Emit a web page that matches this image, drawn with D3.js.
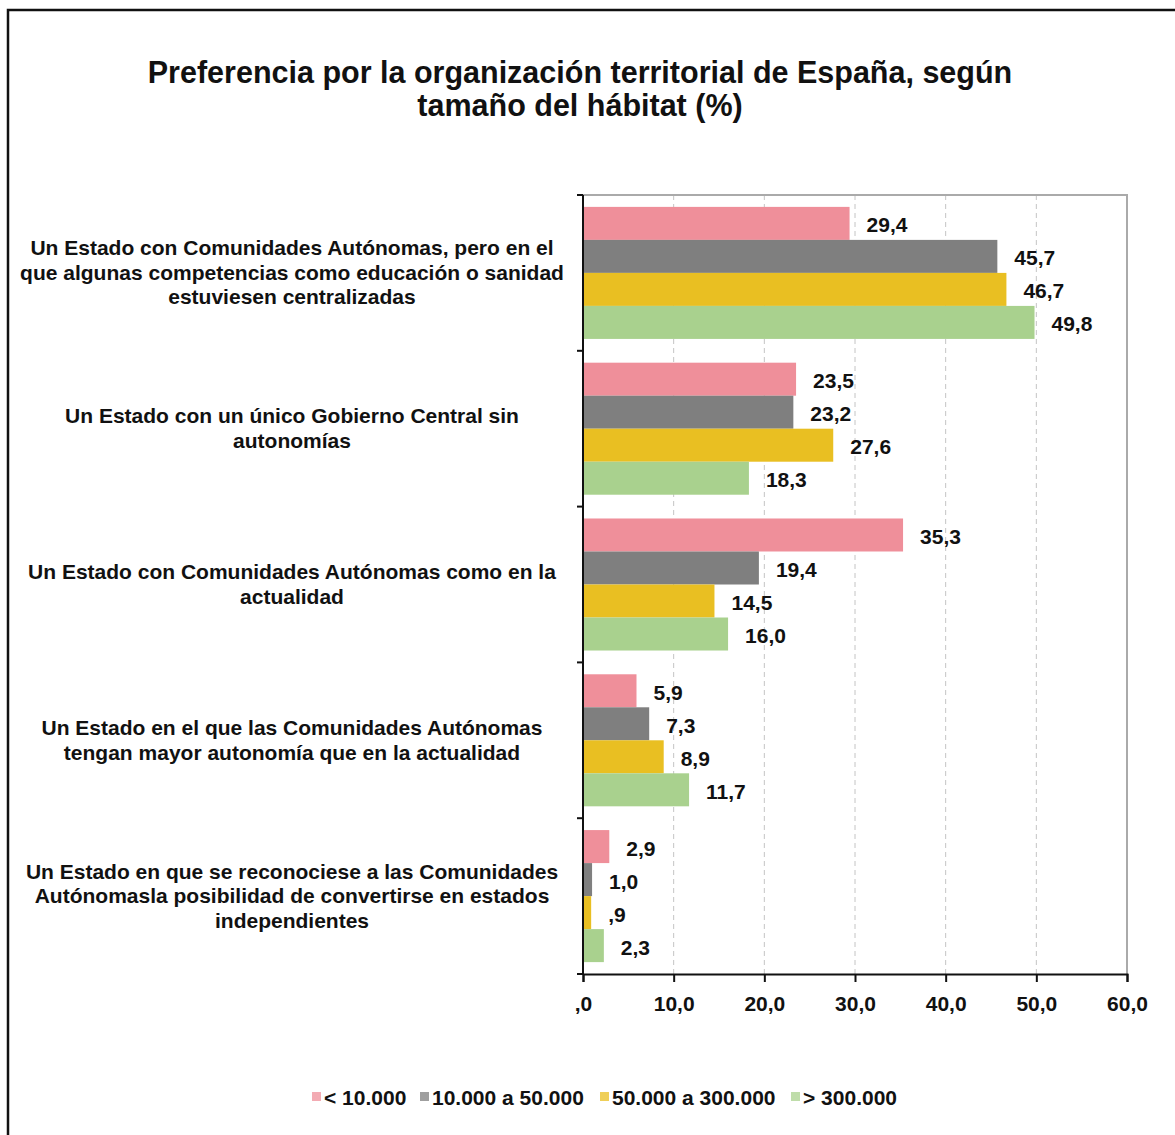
<!DOCTYPE html>
<html>
<head>
<meta charset="utf-8">
<script src="https://cdn.jsdelivr.net/npm/d3@7"></script>
<style>
  body { margin: 0; background: #fff; }
  text { font-family: "Liberation Sans", Arial, sans-serif; fill: #111; }
</style>
</head>
<body>
<div id="chart"></div>
<script>
// chart data
const titleLines = ['Preferencia por la organización territorial de España, según', 'tamaño del hábitat (%)'];

const categories = [
  ['Un Estado con Comunidades Autónomas, pero en el', 'que algunas competencias como educación o sanidad', 'estuviesen centralizadas'],
  ['Un Estado con un único Gobierno Central sin', 'autonomías'],
  ['Un Estado con Comunidades Autónomas como en la', 'actualidad'],
  ['Un Estado en el que las Comunidades Autónomas', 'tengan mayor autonomía que en la actualidad'],
  ['Un Estado en que se reconociese a las Comunidades', 'Autónomasla posibilidad de convertirse en estados', 'independientes']
];

const seriesNames = ['< 10.000', '10.000 a 50.000', '50.000 a 300.000', '> 300.000'];
const seriesColors = ['#ef8f9a', '#7f7f7f', '#e9bf22', '#a9d18e'];

const lt10k = [29.4, 23.5, 35.3, 5.9, 2.9];
const from10kTo50k = [45.7, 23.2, 19.4, 7.3, 1.0];
const from50kTo300k = [46.7, 27.6, 14.5, 8.9, 0.9];
const gt300k = [49.8, 18.3, 16.0, 11.7, 2.3];

const xTicks = [0, 10, 20, 30, 40, 50, 60];

const values = [lt10k, from10kTo50k, from50kTo300k, gt300k];

// spanish number format: 0,9 -> ,9
const fmt = v => d3.format('.1f')(v).replace('.', ',').replace(/^0,/, ',');

const width = 1175, height = 1135;
const plot = { left: 583, right: 1127, top: 195, bottom: 974 };

const svg = d3.select('#chart').append('svg')
  .attr('width', width)
  .attr('height', height);

// outer frame (only left / top visible in the original)
svg.append('rect')
  .attr('x', 8).attr('y', 10)
  .attr('width', width + 20).attr('height', height + 20)
  .attr('fill', '#fff')
  .attr('stroke', '#111')
  .attr('stroke-width', 2.5);

// title
svg.append('g').selectAll('text')
  .data(titleLines)
  .join('text')
  .attr('x', 580)
  .attr('y', (d, i) => 83 + i * 33)
  .attr('text-anchor', 'middle')
  .style('font-size', '30.5px')
  .style('font-weight', 'bold')
  .text(d => d);

const x = d3.scaleLinear().domain([0, 60]).range([plot.left, plot.right]);
const y0 = d3.scaleBand().domain(d3.range(categories.length)).range([plot.top, plot.bottom]);
const y1 = d3.scaleBand().domain(d3.range(seriesNames.length))
  .range([0, y0.bandwidth()])
  .paddingOuter(0.36);

// grid lines
svg.append('g').selectAll('line')
  .data(xTicks.filter(t => t > 0 && t < 60))
  .join('line')
  .attr('x1', d => x(d)).attr('x2', d => x(d))
  .attr('y1', plot.top).attr('y2', plot.bottom)
  .attr('stroke', '#c4c4c4')
  .attr('stroke-dasharray', '5,4');

// plot border top / right
svg.append('path')
  .attr('d', `M${plot.left},${plot.top}H${plot.right}V${plot.bottom}`)
  .attr('fill', 'none')
  .attr('stroke', '#aaa')
  .attr('stroke-width', 2);

// bars
const groups = svg.append('g').selectAll('g')
  .data(categories.map((c, i) => i))
  .join('g')
  .attr('transform', i => `translate(0,${y0(i)})`);

groups.selectAll('rect')
  .data(i => values.map((s, j) => ({ j, v: s[i] })))
  .join('rect')
  .attr('x', x(0))
  .attr('y', d => y1(d.j))
  .attr('width', d => x(d.v) - x(0))
  .attr('height', y1.bandwidth())
  .attr('fill', d => seriesColors[d.j]);

groups.selectAll('text')
  .data(i => values.map((s, j) => ({ j, v: s[i] })))
  .join('text')
  .attr('x', d => x(d.v) + 17)
  .attr('y', d => y1(d.j) + y1.bandwidth() / 2 + 9)
  .style('font-size', '21px')
  .style('font-weight', 'bold')
  .text(d => fmt(d.v));

// category labels
svg.append('g').selectAll('text')
  .data(categories)
  .join('text')
  .attr('text-anchor', 'middle')
  .style('font-size', '21px')
  .style('font-weight', 'bold')
  .each(function (lines, i) {
    const cy = y0(i) + y0.bandwidth() / 2;
    const start = cy - (lines.length - 1) * 24.5 / 2;
    d3.select(this).selectAll('tspan')
      .data(lines)
      .join('tspan')
      .attr('x', 292)
      .attr('y', (d, k) => start + k * 24.5 + 7)
      .text(d => d);
  });

// y axis with category boundary ticks
svg.append('line')
  .attr('x1', plot.left).attr('x2', plot.left)
  .attr('y1', plot.top).attr('y2', plot.bottom)
  .attr('stroke', '#111').attr('stroke-width', 2);
svg.append('g').selectAll('line')
  .data(d3.range(categories.length + 1))
  .join('line')
  .attr('x1', plot.left - 6).attr('x2', plot.left)
  .attr('y1', i => i < categories.length ? y0(i) : plot.bottom)
  .attr('y2', i => i < categories.length ? y0(i) : plot.bottom)
  .attr('stroke', '#111').attr('stroke-width', 2);

// x axis
const xAxis = d3.axisBottom(x).tickValues(xTicks).tickFormat(fmt).tickSize(8).tickPadding(14);
const gx = svg.append('g')
  .attr('transform', `translate(0,${plot.bottom})`)
  .call(xAxis);
gx.select('.domain').attr('stroke', '#111').attr('stroke-width', 2);
gx.selectAll('.tick line').attr('stroke', '#111').attr('stroke-width', 2);
gx.selectAll('.tick text')
  .style('font-family', '"Liberation Sans", Arial, sans-serif')
  .style('font-size', '21px')
  .style('font-weight', 'bold')
  .attr('fill', '#111');

// legend
const legendX = [312, 420, 600, 791];
const legend = svg.append('g').selectAll('g')
  .data(seriesNames)
  .join('g')
  .attr('transform', (d, i) => `translate(${legendX[i]},1097)`);
legend.append('rect')
  .attr('x', 0).attr('y', -5)
  .attr('width', 9).attr('height', 9)
  .attr('fill', (d, i) => seriesColors[i])
  .attr('opacity', 0.75);
legend.append('text')
  .attr('x', 12).attr('y', 8)
  .style('font-size', '21px')
  .style('font-weight', 'bold')
  .text(d => d);
</script>
</body>
</html>
